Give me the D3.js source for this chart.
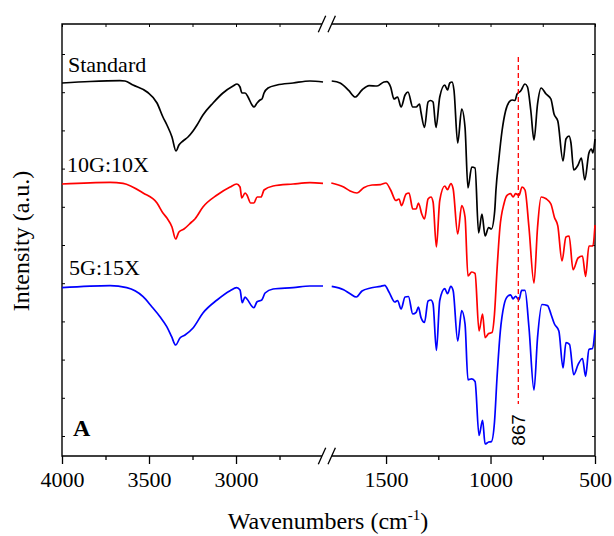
<!DOCTYPE html>
<html>
<head>
<meta charset="utf-8">
<script src="https://cdn.jsdelivr.net/npm/d3@7"></script>
<style>
  body { margin: 0; background: #fff; }
  svg text { font-family: "Liberation Serif", "Times New Roman", serif; fill: #000; }
</style>
</head>
<body>
<svg id="graph" width="614" height="536"></svg>
<script>
// spectra as [wavenumber, intensity (a.u.)]
var standardData = [
  [4000,373],[3839,374.5],[3667,375.3],[3638,375],[3592,371],[3511,364],[3454,353],[3420,339],
  [3397,331],[3368,319],[3345,305],[3328,311],[3305,315],[3276,319],[3247,325],[3224,331],
  [3190,341],[3132,353],[3075,363],[3017,370],[2994,372],[2977,369],[2966,363],[2948,363],
  [2931,359],[2908,351],[2897,349],[2879,353],[2862,356],[2851,357],[2839,363],[2816,368],
  [2764,371],[2672,373],[2575,375],[2500,374],
  [1760,375],[1720,373],[1679,365.6],[1648,359],[1615,366],[1581,370.4],[1543,370],[1510,374],
  [1497,374.4],[1478,369],[1462,357],[1445,359],[1428,349],[1409,361],[1395,364],[1372,349],
  [1356,349],[1340,352],[1333,344],[1316,328.5],[1299,354],[1287,355.5],[1275,354],[1261,328.5],
  [1243,359],[1219,371],[1206,366],[1195,373],[1184,374],[1175,366],[1157,313],[1138,347],
  [1122,328.5],[1108,268],[1090,289],[1074,288],[1057,223],[1041,242],[1026,220],[1009,228.5],
  [996,227],[980,245],[974,266],[961,295],[945,325],[928,345],[911,354],[897,356],[883,355.5],
  [873,362],[856,365],[835,372],[823,369],[807,345],[792,316],[775,352],[758,368],[734,362],
  [711,357],[696,342],[678,335],[653,295],[639,317],[624,320],[615,313],[602,286],[581,291],
  [565,298],[549,276],[529,303],[517,307],[510,303],[500,317]
];

var g10x10Data = [
  [4000,272],[3724,273.7],[3649,272.7],[3534,263],[3454,253],[3420,243],[3397,238],[3368,229],
  [3347,217],[3328,224],[3299,227],[3255,234],[3236,237],[3190,249],[3109,261],[3034,269],
  [2996,272],[2977,269],[2967,258],[2948,263],[2937,261],[2916,253],[2897,253],[2879,259],
  [2856,259],[2839,266],[2787,270],[2672,272],[2575,273.3],[2500,272.7],
  [1762,273],[1703,269],[1672,265],[1639,263],[1607,268.3],[1567,271],[1526,271.4],[1501,273],
  [1478,266],[1453,255.5],[1438,257],[1426,250.4],[1404,262],[1390,263],[1372,247],[1356,247],
  [1345,253],[1329,242],[1316,237],[1299,257],[1285,259],[1275,254],[1259,209],[1243,255.5],
  [1219,270],[1206,266.3],[1190,272.4],[1179,267.3],[1157,222],[1138,250.4],[1122,239],
  [1108,180],[1090,184],[1074,182.5],[1055,125],[1038,142],[1026,118.4],[1009,122.4],
  [993,123.4],[981,142],[969,186],[955,228.5],[936,252],[921,260.6],[904,262.3],[892,259],
  [880,262.3],[864,260.6],[849,269],[835,266],[816,228.5],[792,173],[775,228.5],[758,259],
  [734,257.2],[711,252],[694,238.6],[678,230.2],[658,195],[639,219],[624,220],[605,186.3],
  [581,198],[560,200],[545,179.6],[529,210],[510,210],[500,231]
];

var g5x15Data = [
  [4000,168.3],[3724,170.3],[3628,168.3],[3534,159.3],[3484,149.3],[3437,139.3],[3398,129.3],
  [3370,119.3],[3347,111],[3322,118],[3293,121],[3247,128],[3190,143],[3109,156],[3034,165.3],
  [2996,168.3],[2977,166],[2964,153.3],[2948,159],[2937,157],[2897,148.3],[2879,154.3],
  [2852,156],[2833,163],[2787,167],[2672,168.3],[2575,170],[2500,170],
  [1760,169.7],[1703,166.3],[1672,162.3],[1642,159],[1615,165],[1574,168],[1526,169.7],
  [1506,170.7],[1486,164],[1458,154],[1445,155.5],[1428,147],[1409,159],[1393,159.5],
  [1372,142],[1356,143.7],[1345,149],[1333,138.6],[1316,133.6],[1299,155],[1285,156],
  [1275,152],[1259,105.6],[1243,155.5],[1219,167.3],[1206,162.3],[1190,169.7],[1179,165.6],
  [1157,115],[1138,145.4],[1122,132],[1108,76.2],[1090,77.2],[1074,74.5],[1055,20.5],
  [1038,35.7],[1026,12],[1009,14],[996,14.4],[981,34],[969,78],[953,125],[936,150.4],
  [921,159],[904,161.2],[892,157.2],[880,159.6],[864,156.2],[851,165.6],[835,165.6],
  [816,128.5],[792,66],[775,118.4],[754,151.5],[727,150.4],[711,142],[694,132],[673,125],
  [653,88],[639,113.3],[622,111.6],[602,81.3],[581,91.4],[560,97.5],[545,79.6],[529,106.6],
  [512,107.6],[500,126]
];

var seriesNames = ["Standard", "10G:10X", "5G:15X"];
var seriesColors = ["#000000", "#ff0000", "#0000ff"];
var seriesData = [standardData, g10x10Data, g5x15Data];

var leftDomain = [4000, 2480];
var rightDomain = [1785, 500];
var leftMajor = [4000, 3500, 3000];
var leftMinor = [3750, 3250, 2750];
var rightMajor = [1500, 1000, 500];
var rightMinor = [1250, 750];
var markerWavenumber = 867;

var LEFT = 62, RIGHT = 595, TOP = 24, BOTTOM = 456, BREAK = 326.5;

var vis = d3.select('#graph');

var xLeft = d3.scaleLinear().domain(leftDomain).range([LEFT, BREAK]);
var xRight = d3.scaleLinear().domain(rightDomain).range([BREAK, RIGHT]);
var yRange = d3.scaleLinear().domain([0, 432]).range([BOTTOM, TOP]);
var yTicks = d3.range(20, 432, 38.2);

// bottom axis, major and minor ticks, per segment
function bottomAxis(scale, major, minor) {
  vis.append('g')
    .attr('transform', 'translate(0,' + BOTTOM + ')')
    .call(d3.axisBottom(scale).tickValues(major).tickSize(8).tickPadding(7).tickFormat(d3.format('d')))
    .call(function (g) { g.select('.domain').remove(); })
    .call(function (g) {
      g.attr('font-family', null).attr('font-size', null);
      g.selectAll('text')
        .style('font-family', '"Liberation Serif", "Times New Roman", serif')
        .style('font-size', '22px')
        .attr('fill', '#000');
      g.selectAll('line').attr('stroke', '#000').attr('stroke-width', 1.3);
    });
  vis.append('g')
    .attr('transform', 'translate(0,' + BOTTOM + ')')
    .call(d3.axisBottom(scale).tickValues(minor).tickSize(4).tickFormat(''))
    .call(function (g) { g.select('.domain').remove(); })
    .call(function (g) { g.selectAll('line').attr('stroke', '#000').attr('stroke-width', 1.3); });
  vis.append('g')
    .attr('transform', 'translate(0,' + TOP + ')')
    .call(d3.axisBottom(scale).tickValues(major.concat(minor)).tickSize(3).tickFormat(''))
    .call(function (g) { g.select('.domain').remove(); })
    .call(function (g) { g.selectAll('line').attr('stroke', '#000').attr('stroke-width', 1); });
}
bottomAxis(xLeft, leftMajor, leftMinor);
bottomAxis(xRight, rightMajor, rightMinor);

// y ticks, inward on both sides, no labels
vis.append('g')
  .attr('transform', 'translate(' + LEFT + ',0)')
  .call(d3.axisRight(yRange).tickValues(yTicks).tickSize(3).tickFormat(''))
  .call(function (g) { g.select('.domain').remove(); g.selectAll('line').attr('stroke', '#000'); });
vis.append('g')
  .attr('transform', 'translate(' + RIGHT + ',0)')
  .call(d3.axisLeft(yRange).tickValues(yTicks).tickSize(3).tickFormat(''))
  .call(function (g) { g.select('.domain').remove(); g.selectAll('line').attr('stroke', '#000'); });

// frame with the axis break
var gapL = 322, gapR = 331.7;
var frame = vis.append('g').attr('stroke', '#000').attr('stroke-width', 1.4).attr('fill', 'none');
frame.append('path').attr('d',
  'M' + gapL + ',' + TOP + 'H' + LEFT + 'V' + BOTTOM + 'H' + gapL +
  'M' + gapR + ',' + TOP + 'H' + RIGHT + 'V' + BOTTOM + 'H' + gapR);
[TOP, BOTTOM].forEach(function (y) {
  [gapL, gapR].forEach(function (x) {
    frame.append('line')
      .attr('x1', x - 3.7).attr('y1', y + 8.3)
      .attr('x2', x + 3.7).attr('y2', y - 8.3)
      .attr('stroke-width', 1.3);
  });
});

// spectra
seriesData.forEach(function (data, i) {
  var hi = data.filter(function (d) { return d[0] >= 2000; });
  var lo = data.filter(function (d) { return d[0] < 2000; });
  [[hi, xLeft], [lo, xRight]].forEach(function (part) {
    var lineGen = d3.line()
      .x(function (d) { return part[1](d[0]); })
      .y(function (d) { return yRange(d[1]); })
      .curve(d3.curveMonotoneX);
    vis.append('path')
      .attr('class', 'line')
      .attr('d', lineGen(part[0]))
      .attr('stroke', seriesColors[i])
      .attr('stroke-width', 1.7)
      .attr('stroke-linejoin', 'round')
      .attr('fill', 'none');
  });
});

// 867 marker
var mx = xRight(markerWavenumber);
vis.append('line')
  .attr('x1', mx).attr('x2', mx)
  .attr('y1', 57).attr('y2', 404)
  .attr('stroke', '#ff0000')
  .attr('stroke-width', 1.3)
  .attr('stroke-dasharray', '5,3');
vis.append('text')
  .attr('transform', 'translate(' + (mx + 7) + ',430) rotate(-90)')
  .attr('text-anchor', 'middle')
  .style('font-family', '"Liberation Sans", Arial, sans-serif')
  .style('font-size', '19px')
  .text(markerWavenumber);

// series labels
var labelPos = [[68, 72], [67, 172], [69, 275]];
seriesNames.forEach(function (name, i) {
  vis.append('text')
    .attr('x', labelPos[i][0]).attr('y', labelPos[i][1])
    .attr('font-size', 22)
    .text(name);
});

vis.append('text')
  .attr('x', 73).attr('y', 436)
  .attr('font-size', 24)
  .attr('font-weight', 'bold')
  .text('A');

// axis titles
var xt = vis.append('text')
  .attr('x', 328).attr('y', 529)
  .attr('text-anchor', 'middle')
  .attr('font-size', 24);
xt.append('tspan').text('Wavenumbers (cm');
xt.append('tspan').attr('font-size', 15).attr('dy', -9).text('-1');
xt.append('tspan').attr('dy', 9).text(')');

vis.append('text')
  .attr('transform', 'translate(29,241) rotate(-90)')
  .attr('text-anchor', 'middle')
  .attr('font-size', 24)
  .text('Intensity (a.u.)');
</script>
</body>
</html>
